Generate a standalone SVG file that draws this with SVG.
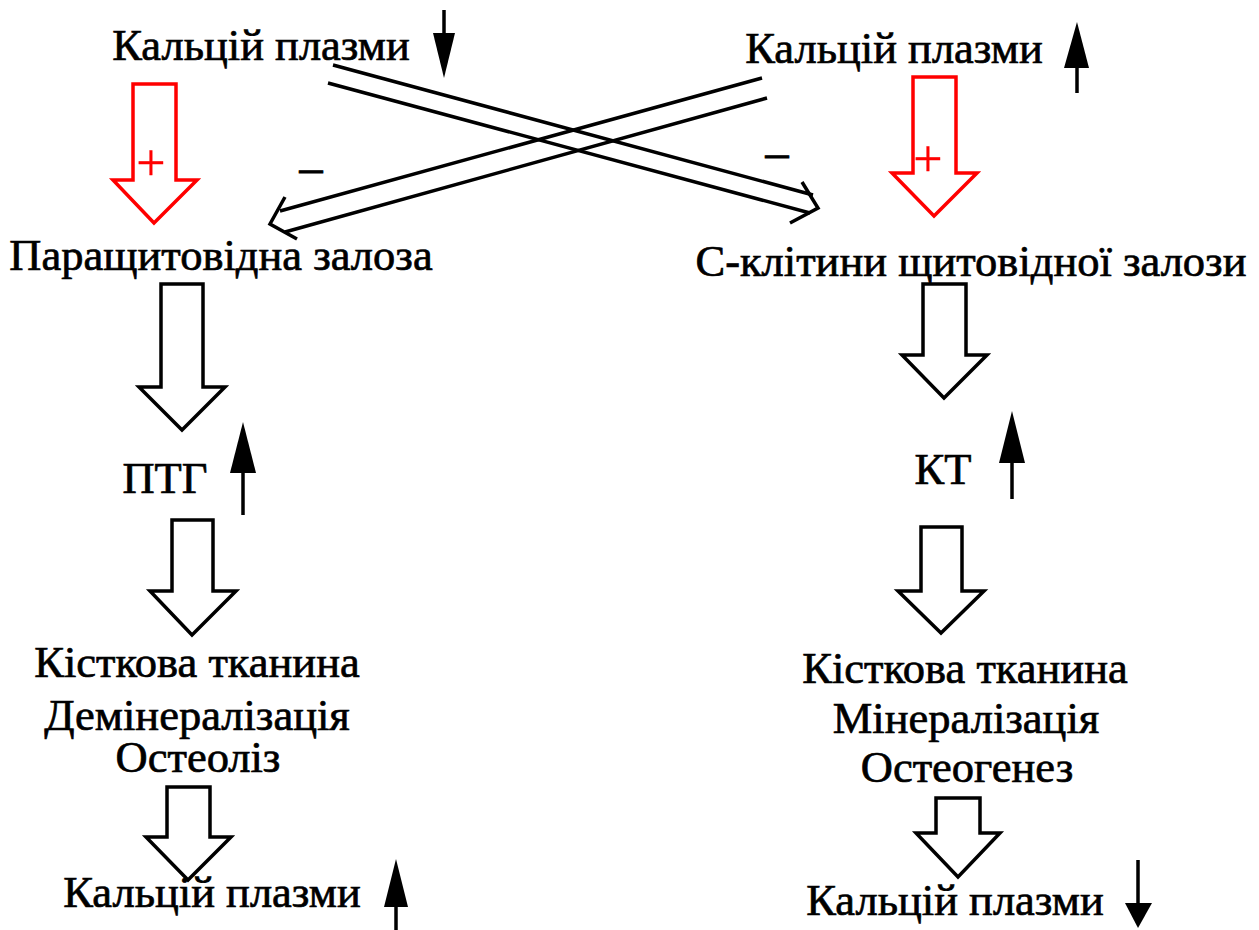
<svg xmlns="http://www.w3.org/2000/svg" width="1259" height="930" viewBox="0 0 1259 930">
<style>
text{font-family:"Liberation Serif","Times New Roman",serif;font-size:44.5px;fill:#000;stroke:#000;stroke-width:0.7;text-anchor:middle}
.blk{fill:#fff;stroke:#000;stroke-width:3.5;stroke-linejoin:miter}
.red{fill:#fff;stroke:#f00;stroke-width:3.5}
.ln{fill:none;stroke:#000;stroke-width:3.5}
.hd{fill:#000;stroke:none}
text.plus{fill:#f00;stroke:#f00;stroke-width:0.3;font-size:52px}
text.minus{font-size:46px;stroke-width:1}
</style>
<rect width="1259" height="930" fill="#fff"/>
<g id="n-ca-top-left"><text x="261" y="60">Кальцій плазми</text>
<line class="ln" x1="444" y1="10" x2="444" y2="40"/><polygon class="hd" points="433,33 455,33 444,78"/></g>
<g id="n-ca-top-right"><text x="894" y="63">Кальцій плазми</text>
<line class="ln" x1="1077" y1="60" x2="1077" y2="93"/><polygon class="hd" points="1064,68 1089,68 1077,22"/></g>
<g id="n-para"><text x="221" y="270">Паращитовідна залоза</text></g>
<g id="n-ccells"><text x="971" y="276">С-клітини щитовідної залози</text></g>
<g id="n-ptg"><text x="165" y="493">ПТГ</text>
<line class="ln" x1="243" y1="465" x2="243" y2="515"/><polygon class="hd" points="230,473 256,473 243,422"/></g>
<g id="n-kt"><text x="943" y="484">КТ</text>
<line class="ln" x1="1012" y1="455" x2="1012" y2="499"/><polygon class="hd" points="999,463 1025,463 1012,411"/></g>
<g id="n-bone-left"><text x="197" y="677">Кісткова тканина</text><text x="197" y="730">Демінералізація</text><text x="198" y="772">Остеоліз</text></g>
<g id="n-bone-right"><text x="965" y="683">Кісткова тканина</text><text x="966" y="733">Мінералізація</text><text x="967" y="782">Остеогенез</text></g>
<g id="n-ca-bottom-left"><text x="212" y="907">Кальцій плазми</text>
<line class="ln" x1="396" y1="900" x2="396" y2="930"/><polygon class="hd" points="384,907 408,907 396,859"/></g>
<g id="n-ca-bottom-right"><text x="955" y="915">Кальцій плазми</text>
<line class="ln" x1="1138" y1="860" x2="1138" y2="910"/><polygon class="hd" points="1125,903 1152,903 1138,928"/></g>
<g id="connectors">
<polygon class="red" points="133,84 176,84 176,180 197,180 154,223 113,180 133,180"/>
<text class="plus" x="151" y="180">+</text>
<polygon class="red" points="913,77 956,77 956,173 977,173 934,216 892,173 913,173"/>
<text class="plus" x="928" y="176">+</text>
<line class="ln" x1="333" y1="65" x2="813" y2="195"/>
<line class="ln" x1="328" y1="83" x2="810" y2="213"/>
<polyline class="ln" points="802,182 818,208 790,223"/>
<line class="ln" x1="762" y1="78" x2="280" y2="211"/>
<line class="ln" x1="767" y1="98" x2="285" y2="232"/>
<polyline class="ln" points="285,197 270,224 297,239"/>
<text class="minus" x="311" y="183">–</text>
<text class="minus" x="777" y="168">–</text>
<polygon class="blk" points="161,284 203,284 203,387 225,387 182,430 139,387 161,387"/>
<polygon class="blk" points="172,520 213,520 213,591 236,591 192,635 150,591 172,591"/>
<polygon class="blk" points="167,787 210,787 210,837 231,837 188,880 146,837 167,837"/>
<polygon class="blk" points="923,284 966,284 966,355 987,355 944,398 902,355 923,355"/>
<polygon class="blk" points="921,527 962,527 962,591 984,591 941,633 898,591 921,591"/>
<polygon class="blk" points="936,798 980,798 980,833 1000,833 958,877 916,833 936,833"/>
</g>
</svg>
